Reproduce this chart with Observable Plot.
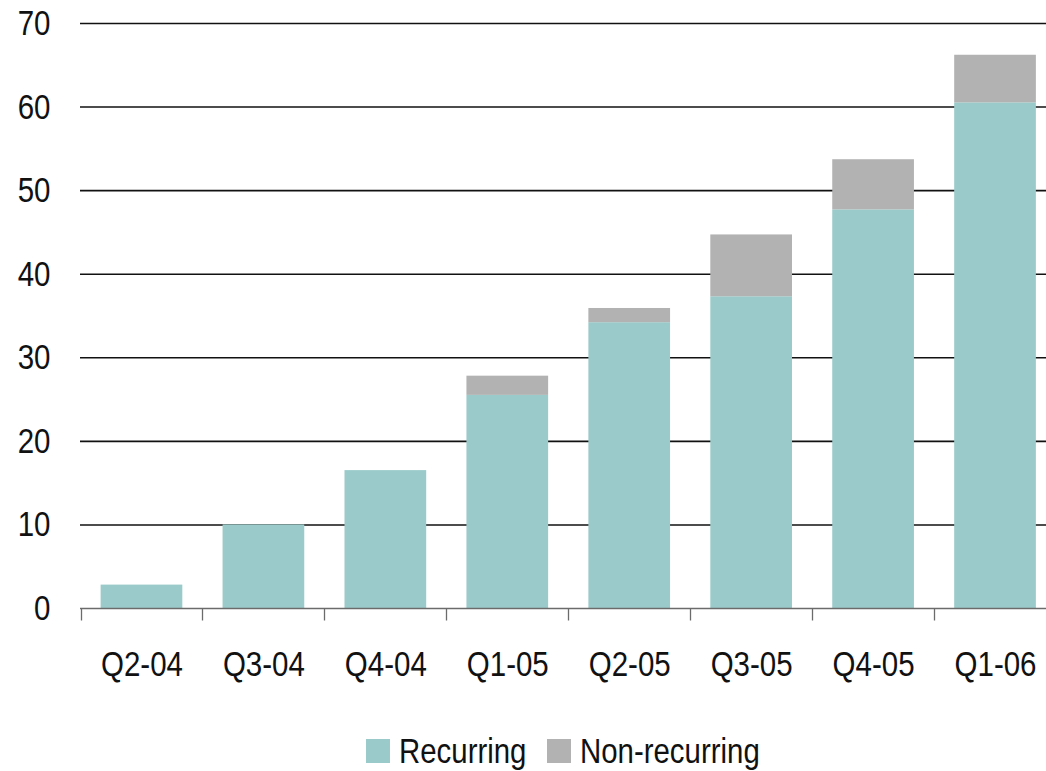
<!DOCTYPE html>
<html>
<head>
<meta charset="utf-8">
<script src="https://cdn.jsdelivr.net/npm/d3@7"></script>
<script src="https://cdn.jsdelivr.net/npm/@observablehq/plot@0.6"></script>
<style>
  html, body { margin: 0; padding: 0; background: #fff; }
  body { width: 1046px; font-family: "Liberation Sans", Arial, sans-serif; }
  #chart svg { display: block; font-family: "Liberation Sans", Arial, sans-serif; }
  .legend { display: flex; justify-content: center; align-items: center; height: 71px; margin-left: 80px; width: 966px; font-size: 35px; color: #111; padding-top: 30px; box-sizing: border-box; }
  .legend .item { display: flex; align-items: center; }
  .legend .item + .item { margin-left: 20px; }
  .legend .swatch { width: 24px; height: 24px; margin-right: 9px; flex: none; }
  .legend .name { display: inline-block; transform-origin: left center; transform: scaleX(0.84); white-space: nowrap; }
</style>
</head>
<body>
<div id="chart"></div>
<div class="legend" id="legend"></div>
<script>
// Quarterly revenue, split into recurring and non-recurring parts
const quarters = ["Q2-04", "Q3-04", "Q4-04", "Q1-05", "Q2-05", "Q3-05", "Q4-05", "Q1-06"];
const recurring = [2.8, 10.0, 16.5, 25.5, 34.2, 37.3, 47.7, 60.5];
const nonRecurring = [0, 0, 0, 2.3, 1.7, 7.4, 6.0, 5.7];
const seriesNames = ["Recurring", "Non-recurring"];
const seriesColors = ["#9ACBCA", "#B2B2B2"];
const yTicks = [0, 10, 20, 30, 40, 50, 60, 70];

const rows = [];
quarters.forEach((q, i) => {
  rows.push({quarter: q, series: seriesNames[0], value: recurring[i]});
  rows.push({quarter: q, series: seriesNames[1], value: nonRecurring[i]});
});

const W = 1046, H = 700;
const mLeft = 80, mTop = 23, mBottom = 92;

// Baseline with category-boundary ticks hanging below it
function baselineTicks(index, scales, values, dimensions) {
  const x = scales.x, y = scales.y;
  const y0 = Math.round(y(0)) + 0.5;
  const half = (x.step() - x.bandwidth()) / 2;
  const g = d3.create("svg:g").attr("stroke", "#6b6b6b").attr("stroke-width", 1.3);
  g.append("line")
    .attr("x1", dimensions.marginLeft).attr("x2", dimensions.width)
    .attr("y1", y0).attr("y2", y0);
  quarters.forEach(q => {
    const bx = Math.round(x(q) - half) + 0.5;
    g.append("line").attr("x1", bx).attr("x2", bx).attr("y1", y0).attr("y2", y0 + 12);
  });
  return g.node();
}

const plot = Plot.plot({
  width: W,
  height: H,
  marginLeft: mLeft,
  marginRight: 0,
  marginTop: mTop,
  marginBottom: mBottom,
  style: {fontSize: "36px", color: "#111", background: "#fff"},
  x: {domain: quarters, range: [80.5, 1056], round: false, paddingInner: 0.33, paddingOuter: 0.165, label: null},
  y: {domain: [0, 70], label: null},
  color: {domain: seriesNames, range: seriesColors},
  marks: [
    Plot.ruleY(yTicks.filter(t => t > 0), {stroke: "#111", strokeWidth: 1.6}),
    Plot.barY(rows, Plot.stackY({x: "quarter", y: "value", fill: "series", order: seriesNames})),
    baselineTicks,
    Plot.axisY({ticks: yTicks, tickSize: 0, tickPadding: 30, fontSize: 36, tickFormat: d => String(d)}),
    Plot.axisX({tickSize: 0, tickPadding: 42, fontSize: 36})
  ]
});
document.getElementById("chart").appendChild(plot);

// squeeze tick labels horizontally about their anchor for a condensed look
d3.select(plot)
  .selectAll('g[aria-label="y-axis tick label"] text, g[aria-label="x-axis tick label"] text')
  .attr("transform", function () {
    const t = this.getAttribute("transform") || "";
    return t + " scale(0.82,1)";
  });

// Legend under the chart
const legend = d3.select("#legend");
seriesNames.forEach((name, i) => {
  const item = legend.append("div").attr("class", "item");
  item.append("div").attr("class", "swatch").style("background", seriesColors[i]);
  item.append("span").attr("class", "name").text(name);
});
// pull in the layout width lost to the horizontal squeeze
legend.selectAll(".name").each(function () {
  this.style.marginRight = (-(1 - 0.84) * this.offsetWidth) + "px";
});
</script>
</body>
</html>
